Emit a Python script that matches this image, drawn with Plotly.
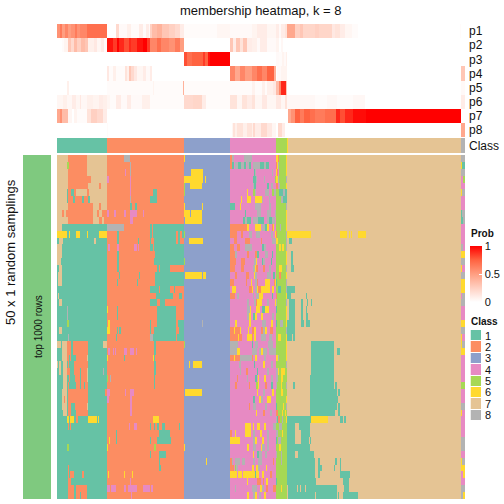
import plotly.graph_objects as go

# Every row is run-length text: "value:end_column", over 408 columns.
prob_labels = ["p1", "p2", "p3", "p4", "p5", "p6", "p7", "p8"]
prob_rows = [
 ".55:3 .65:5 .5:8 .6:11 .5:14 .55:18 .65:20 .55:23 .6:30 .7:50 0:59 .2:62 .03:70 .08:74 .02:82 .1:86 .02:89 .1:92 .03:93 .25:95 .35:100 .4:105 .3:112 .25:118 .2:123 .1:127 .02:160 .05:173 .03:195 .06:200 .1:210 .05:219 .1:222 .03:224 .1:228 .15:230 .45:238 .25:243 .3:246 .22:258 .25:262 .22:275 .12:278 .15:283 .1:288 .05:295 .02:301 0:403 .02:404 0:408",
 "0:5 .02:7 .06:11 .3:14 .2:17 .35:20 .25:24 .35:28 .3:31 .08:37 .12:40 .05:44 .1:47 .02:50 .95:56 .85:60 1:62 .9:67 .8:72 .9:74 .85:80 .95:86 1:90 .85:93 .6:100 .7:104 .6:112 .55:118 .65:123 .5:127 0:173 .3:176 .1:179 .3:183 .15:186 .3:190 .1:195 .08:200 .03:203 .1:210 .03:219 .06:222 0:224 .04:226 0:408",
 "0:127 .8:130 .7:135 .75:146 .85:148 .75:151 .95:153 1:173 0:219 .03:222 .02:225 .06:227 .03:229 .08:230 0:408",
 "0:50 .12:52 .02:56 .08:59 .02:68 .15:70 .08:72 .3:74 .2:77 .12:80 .05:86 .1:89 .03:93 .1:95 0:173 .6:178 .45:183 .6:188 .5:195 .6:200 .7:205 .6:210 .75:217 .4:219 0:220 .03:224 .06:230 0:404 .3:408",
 "0:10 .08:12 0:50 .02:96 .06:97 .02:126 .4:127 .02:173 .02:195 .07:198 .02:205 .08:208 .02:210 .08:216 .12:219 .35:222 .6:224 .9:229 .3:230 0:404 .03:408",
 ".05:6 .08:10 .04:15 .1:19 .05:23 .12:24 .04:30 .08:36 .06:42 .1:46 .08:50 .05:53 .02:59 .1:64 .03:70 .1:74 .03:85 .08:93 .02:127 .2:136 .22:145 .1:149 .02:173 .15:180 .05:185 .15:190 .1:195 .15:198 .05:205 .12:210 .05:219 .12:224 .05:228 .15:230 .04:258 .02:270 .04:280 .02:296 .04:308 0:404 .1:408",
 ".45:3 .55:5 .35:11 .05:15 0:17 .06:20 .02:30 .15:34 .25:40 .2:46 .1:50 0:231 .45:234 .55:238 .75:243 .65:247 .75:253 .7:258 .65:268 .7:279 .9:283 .8:288 .9:296 .97:309 1:404 0:408",
 "0:50 .02:51 0:175 .05:176 .15:178 .08:180 .15:186 .08:190 .15:195 .08:196 .2:198 .1:204 .2:210 .12:215 .05:219 0:221 .2:225 .1:228 0:404 .45:408",
]
class_row = "1:50 2:127 3:173 4:219 5:230 6:231 7:404 8:408"

block_a = [
 "7:11 2:30 7:50 2:67 8:73 2:127",
 "7:10 5:12 2:30 7:50 2:73 8:74 2:127",
 "7:11 2:30 7:50 2:68 4:69 2:73 8:74 2:127",
 "7:11 2:34 7:50 4:52 2:73 4:74 2:127",
 "7:11 2:31 7:42 2:44 7:50 2:73 4:74 2:127",
 "7:10 1:11 2:14 1:17 2:19 7:30 2:32 7:50 2:73 4:74 2:96 1:100 2:127",
 "7:10 1:11 2:16 1:18 2:25 1:27 2:31 1:33 7:50 2:73 8:74 2:93 1:100 2:127",
 "7:11 2:36 7:42 2:44 7:50 2:73 1:75 2:78 1:80 2:127",
 "7:5 2:7 7:9 2:36 7:40 2:42 7:45 2:50 4:52 2:57 4:59 2:67 4:69 2:73 4:80 2:86 4:87 2:127",
 "7:11 2:36 7:42 2:45 7:47 2:73 4:76 2:127",
 "7:5 1:50 8:67 2:93 1:95 2:96 1:127",
 "6:10 1:12 6:13 1:19 6:23 1:30 6:31 1:42 6:50 2:60 1:62 2:93 1:95 2:96 1:119 2:121 1:123 2:125 1:127",
 "1:2 7:6 1:37 7:39 1:50 2:60 1:62 2:81 1:82 2:93 1:94 2:97 1:119 2:121 1:123 2:127",
 "7:5 1:50 2:51 4:53 2:60 4:62 2:77 4:80 2:81 4:82 2:93 1:96 2:97 1:127",
 "7:5 1:50 2:60 1:62 2:98 1:127",
 "7:4 1:50 2:60 1:62 2:97 1:127",
 "1:2 7:5 1:50 2:60 1:62 2:100 1:102 2:103 1:113 2:127",
 "1:1 7:5 1:50 2:62 1:63 2:82 1:83 2:98 1:127",
 "1:1 7:5 1:50 2:60 1:61 2:80 1:81 2:98 1:127",
 "1:50 2:93 1:102 2:103 1:113 2:117 1:118 2:127",
 "1:1 7:2 1:50 2:99 1:116 2:122 1:125 2:127",
 "1:2 7:5 1:50 2:93 1:100 2:103 1:108 2:127",
 "1:10 8:11 1:50 6:51 2:60 1:61 2:100 1:119 2:127",
 "1:10 8:11 1:50 2:60 1:61 2:100 1:119 2:127",
 "1:10 5:12 1:50 2:51 6:53 2:93 1:94 2:100 1:119 2:121 1:127",
 "1:2 7:5 1:50 6:53 2:60 1:61 2:62 1:64 2:93 1:94 2:97 1:119 2:122 1:127",
 "1:11 8:12 1:50 2:59 1:60 2:93 8:96 1:119 2:120 1:127",
 "7:4 1:5 7:10 2:14 1:16 2:31 1:46 7:50 2:97 1:99 2:127",
 "1:5 7:10 2:14 1:16 2:31 1:50 2:51 4:53 2:56 4:57 2:58 4:59 2:67 4:70 2:73 4:77 2:79 4:80 2:97 1:99 2:127",
 "1:5 7:10 2:12 1:13 2:14 1:19 2:30 7:31 1:50 6:51 2:67 1:68 2:96 6:97 1:98 2:127",
 "7:1 1:2 7:4 1:6 7:10 1:11 2:12 1:17 2:31 1:50 2:97 1:99 2:127",
 "1:2 7:4 1:6 7:10 2:13 1:17 2:23 1:24 2:30 7:31 1:46 8:47 1:50 2:97 1:99 2:127",
 "1:6 7:10 1:12 2:13 1:18 2:23 1:24 2:30 7:31 1:50 5:51 2:53 8:54 2:97 1:98 2:127",
 "1:6 7:10 1:11 2:12 1:19 2:23 1:24 2:27 1:28 2:31 1:50 2:97 1:98 2:127",
 "1:5 7:10 1:11 2:31 1:48 2:50 4:53 2:68 4:69 2:73 4:77 2:127",
 "1:5 7:7 2:8 7:10 1:11 2:31 1:50 4:52 2:73 4:75 2:127",
 "1:5 7:10 1:11 2:14 1:18 2:30 7:31 1:50 2:73 4:75 2:127",
 "1:6 7:10 1:11 2:14 1:19 2:31 1:50 2:73 4:75 2:127",
 "1:10 6:12 1:13 6:17 1:19 2:21 1:31 6:40 1:41 6:42 1:50 2:96 6:102 2:127",
 "1:11 2:12 1:13 2:14 1:50 2:72 4:73 2:77 4:80 2:93 1:94 2:97 1:98 2:100 1:102 2:105 1:108 2:122 1:123 2:127",
 "1:50 2:59 1:60 2:102 1:113 2:127",
 "1:50 2:52 6:53 2:59 1:60 2:93 1:94 2:100 1:114 2:127",
 "1:10 5:12 1:50 6:51 2:97 5:99 2:127",
 "1:50 2:93 1:94 2:102 1:109 2:127",
 "1:50 2:102 1:103 2:127",
 "1:11 2:12 1:50 2:102 1:104 2:127",
 "1:11 2:12 1:13 2:17 1:25 2:27 1:50 2:51 6:52 2:67 6:68 2:75 6:76 2:127",
 "1:11 2:14 1:50 2:73 4:74 2:127",
 "1:11 2:17 1:19 2:30 1:50 4:53 2:54 4:59 2:67 4:69 2:71 4:80 2:86 4:93 2:94 4:96 2:127",
 "1:11 2:17 1:19 2:23 1:24 2:30 1:50 2:74 4:75 2:127",
]

block_b_default = "3:173"
block_b_changes = {
 0: "6:128 3:173", 2: "3:134 6:146 3:173", 3: "6:146 3:148 6:149 3:173",
 4: "5:128 3:133 6:145 3:173", 5: "5:128 3:173", 7: "6:128 3:145 6:146 3:173",
 8: "6:133 3:134 6:145 3:173", 9: "3:128 6:145 3:173", 11: "5:128 3:173",
 12: "3:132 6:146 3:173", 15: "5:128 3:173", 17: "3:128 6:145 3:146 6:149 3:173",
 24: "3:145 8:146 3:173", 27: "5:128 3:173", 30: "3:132 6:133 3:136 6:145 3:173",
 34: "3:128 6:145 3:173", 42: "6:128 3:173", 44: "3:149 6:150 3:173",
}

block_c = [
 "2:175 8:177 4:187 8:195 4:219 6:221 2:222 5:229 6:230",
 "2:175 1:177 4:178 8:181 1:184 8:187 1:189 4:190 8:192 1:194 4:196 8:203 1:207 8:209 1:212 4:219 2:220 6:221 8:222 5:229 6:230",
 "4:197 1:198 8:199 4:215 8:216 4:219 6:220 2:221 4:222 5:229 6:230",
 "4:196 1:199 8:200 4:207 8:208 4:218 5:219 6:221 8:222 5:229 8:230",
 "4:196 8:197 1:199 4:210 1:212 4:214 8:216 4:219 2:221 4:222 8:223 5:229 6:230",
 "4:190 6:191 4:196 5:198 8:199 4:208 8:212 4:215 5:217 8:219 5:222 1:226 8:228 1:230",
 "4:184 6:185 4:190 6:194 4:198 6:205 8:206 4:212 8:213 4:219 5:224 8:226 1:230",
 "1:178 4:183 6:184 4:198 8:204 4:212 8:214 4:219 5:229 8:230",
 "4:188 1:189 4:200 8:204 4:210 8:214 4:218 8:219 5:229 6:230",
 "4:186 1:188 8:190 1:194 4:196 8:201 1:207 4:210 8:212 1:215 8:218 4:219 5:229 6:230",
 "2:190 6:192 4:198 6:204 4:205 8:208 1:210 6:212 4:215 2:216 6:217 4:219 5:223 8:224 5:229 6:230",
 "2:180 4:184 2:186 4:192 8:195 4:199 8:203 4:214 8:216 4:218 6:219 2:220 5:229 8:230",
 "4:177 2:180 4:188 2:193 4:204 2:205 4:215 8:219 6:221 5:229 8:230",
 "2:177 4:180 2:183 4:188 8:195 4:205 1:207 8:209 4:219 5:222 6:224 5:225 6:227 5:229 8:230",
 "2:178 8:180 4:190 2:192 4:198 2:200 1:202 4:208 8:211 4:215 1:216 4:219 5:229 6:230",
 "2:179 4:184 2:188 4:197 8:199 6:200 4:205 1:206 8:208 4:214 1:215 4:219 5:229 6:230",
 "2:178 4:184 2:187 4:196 8:198 6:199 2:201 4:206 2:208 4:212 8:214 4:219 5:222 6:225 5:229 8:230",
 "4:178 2:180 4:189 2:192 4:197 6:198 8:200 4:210 8:214 4:216 1:218 4:219 5:222 2:224 5:229 6:230",
 "2:177 4:189 2:190 4:194 6:195 4:198 8:200 2:201 4:208 6:213 4:217 2:218 6:219 1:220 5:229 8:230",
 "4:175 6:179 4:192 2:195 6:196 4:198 8:200 6:201 2:204 6:213 4:215 6:217 4:219 5:221 1:224 5:229 8:230",
 "2:178 4:180 8:182 4:196 8:197 4:199 8:202 6:206 4:215 1:216 4:219 2:220 5:229 6:230",
 "4:190 8:192 4:197 8:199 2:200 6:205 4:210 8:212 4:218 6:219 8:220 5:229 8:230",
 "4:190 8:193 6:194 4:199 6:203 4:205 1:208 6:212 4:219 1:220 5:229 6:230",
 "4:190 8:192 6:194 4:196 1:198 6:200 4:204 6:206 4:215 8:217 4:219 5:229 6:230",
 "4:178 6:180 4:192 6:194 4:205 8:209 4:214 6:216 4:219 1:220 5:223 8:226 5:229 6:230",
 "2:177 6:178 2:183 6:184 4:191 6:192 4:195 2:197 6:199 4:204 2:206 8:208 6:210 4:213 2:216 4:219 5:229 8:230",
 "2:181 6:182 2:185 4:190 6:195 2:196 4:197 6:199 4:204 8:209 4:212 8:215 4:219 5:221 6:224 5:229 6:230",
 "8:181 4:195 1:196 4:198 8:201 4:211 8:216 4:219 5:229 6:230",
 "8:180 6:183 4:195 8:200 4:202 8:204 6:206 8:210 4:212 8:219 5:229 6:230",
 "2:177 6:178 2:183 8:195 2:196 4:198 6:200 4:207 8:209 4:219 6:221 8:222 5:229 6:230",
 "4:182 8:184 4:197 1:198 4:206 6:208 4:214 8:216 4:219 5:229 8:230",
 "4:183 8:184 4:189 2:191 4:200 1:201 4:210 8:212 4:219 8:221 6:222 5:224 6:228 5:230",
 "4:180 2:181 4:190 8:191 4:198 1:200 4:201 6:202 4:207 6:209 4:214 8:216 4:219 8:221 5:224 6:226 5:230",
 "4:178 2:180 4:192 2:193 4:199 5:201 6:202 4:208 2:210 4:214 1:216 4:219 8:220 5:224 6:225 5:229 8:230",
 "4:200 6:201 4:206 8:208 4:215 6:217 4:219 5:224 6:226 5:230",
 "4:196 1:198 4:202 6:204 8:206 4:210 6:214 4:219 5:229 6:230",
 "4:192 2:193 4:196 8:199 4:208 8:210 4:219 1:220 5:226 6:227 5:229 8:230",
 "4:199 6:200 4:206 2:208 4:213 8:215 4:219 2:221 5:225 6:226 5:228 6:229 5:230",
 "4:219 8:220 1:221 2:223 5:225 8:226 5:229 6:230",
 "4:188 6:194 4:196 6:197 4:200 6:203 4:207 6:209 4:216 8:219 5:222 8:225 5:230",
 "2:175 4:178 6:179 4:188 6:194 4:196 8:198 4:203 6:205 4:210 8:212 4:219 8:221 5:225 6:226 5:230",
 "6:183 4:196 8:198 6:200 4:205 6:207 4:210 8:212 4:219 1:220 5:221 8:224 5:230",
 "4:190 6:192 4:196 8:199 4:204 6:205 8:208 4:210 8:212 4:219 5:222 6:224 5:230",
 "4:196 6:197 4:200 1:202 8:205 4:208 8:210 4:219 8:220 5:224 8:225 5:230",
 "2:175 8:176 4:178 8:183 4:185 8:188 4:196 8:198 4:201 8:205 4:216 2:217 4:219 5:224 8:225 5:230",
 "2:177 4:178 5:179 8:181 4:195 6:197 4:199 6:201 8:203 4:209 6:210 4:219 5:230",
 "6:179 6:180 4:181 6:185 4:186 6:195 6:198 1:199 6:202 4:205 6:207 4:213 2:215 4:219 5:230",
 "4:190 6:191 4:200 2:204 4:206 2:207 4:209 6:211 4:219 1:220 5:230",
 "4:178 8:179 4:195 8:200 4:203 6:205 8:207 4:209 2:211 4:216 2:219 5:224 6:225 5:230",
 "4:190 6:192 4:196 8:198 6:200 4:202 8:204 4:207 6:209 4:219 5:230",
]

block_d = [
 "7:404", "7:404", "7:404", "7:404", "7:404", "7:404", "7:404", "7:404", "7:404", "7:404", "7:404",
 "6:254 7:283 6:290 7:292 6:293 7:294 6:295 7:301 6:309 7:404",
 "7:232 1:235 7:404", "7:404", "7:234 1:236 7:404", "7:234 1:236 7:404", "7:234 1:237 7:404", "7:404", "7:404",
 "1:238 7:404",
 "1:234 7:249 1:250 7:404",
 "7:232 1:238 7:244 1:246 7:250 1:251 7:254 1:255 7:404",
 "7:232 1:238 7:244 1:246 7:249 1:250 7:404",
 "7:232 1:238 7:244 1:246 7:249 1:251 7:404",
 "1:238 7:244 1:247 7:249 1:253 7:404",
 "1:238 7:404",
 "1:235 7:236 1:238 7:404",
 "7:254 1:277 7:404",
 "7:254 1:277 7:280 1:283 7:404",
 "7:254 1:277 7:404", "7:254 1:277 7:404", "7:254 1:277 7:404",
 "7:253 1:277 7:404",
 "7:236 1:238 7:253 1:277 7:278 1:280 7:404",
 "7:253 1:280 7:281 1:283 7:404",
 "7:253 1:281 7:404",
 "7:253 1:280 7:281 1:283 7:404",
 "7:253 1:278 7:281 1:283 7:404",
 "1:254 6:271 7:283 1:286 7:287 1:289 7:404",
 "1:238 7:242 1:253 7:404",
 "1:238 7:244 1:253 7:404",
 "1:238 7:244 1:252 7:253 1:254 7:404",
 "1:253 7:404",
 "1:238 7:241 1:257 7:404",
 "1:258 7:261 1:263 7:278 1:280 7:283 1:284 7:404",
 "1:258 7:261 1:265 7:277 1:278 7:283 1:284 7:404",
 "1:258 7:261 1:263 7:283 1:293 7:404",
 "1:259 7:286 1:292 7:404",
 "7:231 1:240 7:241 1:243 7:244 1:248 7:249 1:280 7:287 1:292 7:404",
 "7:231 1:258 7:259 1:280 7:281 1:282 7:286 1:301 7:404",
]

block_e = [
 "8:408", "6:405 1:408", "8:408", "4:406 5:408", "4:408", "6:405 8:408", "4:408", "4:408", "1:405 8:408", "1:406 8:408",
 "4:408", "4:408", "4:408", "8:406 4:408", "6:408", "8:408", "6:405 4:408", "8:408", "6:408", "6:408",
 "4:405 8:408", "8:408", "4:408", "4:408", "6:408", "8:408", "6:405 4:408", "6:405 8:408", "6:408", "4:408",
 "4:408", "4:408", "4:408", "5:408", "4:408", "4:408", "8:408", "6:405 4:408", "4:408", "4:408",
 "4:408", "8:408", "8:408", "4:408", "6:405 8:408", "6:408", "4:406 6:408", "4:408", "8:408", "8:406 6:408",
]

class_colors = ["#66C2A5", "#FC8D62", "#8DA0CB", "#E78AC3", "#A6D854", "#FFD92F", "#E5C494", "#B3B3B3"]
class_names = ["1", "2", "3", "4", "5", "6", "7", "8"]
prob_ticks = [0, 0.5, 1]
FONT = "Liberation Sans"


def expand(text, start=0):
    out, pos = [], start
    for token in text.split():
        value, end = token.split(":")
        end = int(end)
        out += [float(value)] * max(0, end - pos)
        pos = max(pos, end)
    return out


matrix = [
    expand(block_a[i])
    + expand(block_b_changes.get(i, block_b_default), 127)
    + expand(block_c[i], 173)
    + expand(block_d[i], 230)
    + expand(block_e[i], 404)
    for i in range(50)
]
prob = [expand(r) for r in prob_rows]

stepped = []
for i, c in enumerate(class_colors):
    stepped += [[i / 8, c], [(i + 1) / 8, c]]
red_ramp = [[0, "#FFFFFF"], [0.25, "#FFD0C2"], [0.5, "#FF9E81"], [0.75, "#FF6341"], [1, "#FF0000"]]

fig = go.Figure()


def add_axes(n, left, right, top, bottom, **yopts):
    suffix = "" if n == 1 else str(n)
    fig.layout["xaxis" + suffix] = dict(domain=[left / 504, right / 504], visible=False, fixedrange=True, anchor="y" + suffix)
    yaxis = dict(domain=[1 - bottom / 504, 1 - top / 504], fixedrange=True, anchor="x" + suffix, showgrid=False,
                 zeroline=False, showline=False, ticks="", autorange="reversed", showticklabels=False)
    yaxis.update(yopts)
    fig.layout["yaxis" + suffix] = yaxis
    return dict(xaxis="x" + suffix, yaxis="y" + suffix)


label_opts = dict(side="right", showticklabels=True, ticklabelstandoff=3,
                  tickfont=dict(family=FONT, size=12, color="#111111"))
legend_label_opts = dict(label_opts, tickfont=dict(family=FONT, size=11, color="#111111"))

fig.add_trace(go.Heatmap(
    z=prob, colorscale=red_ramp, zmin=0, zmax=1, hoverinfo="skip",
    colorbar=dict(x=470 / 504, xanchor="left", y=1 - 246 / 504, yanchor="top", lenmode="pixels", len=56,
                  thickness=12, outlinewidth=0, xpad=0, ypad=0, tickvals=prob_ticks,
                  ticktext=["0", "0.5", "1"],
                  ticks="inside", tickcolor="white", ticklen=3, tickfont=dict(family=FONT, size=11, color="#111111")),
    **add_axes(1, 57, 465, 24, 137, tickmode="array", tickvals=list(range(8)), ticktext=prob_labels, **label_opts)))

fig.add_trace(go.Heatmap(
    z=[expand(class_row)], colorscale=stepped, zmin=0.5, zmax=8.5, showscale=False, hoverinfo="skip",
    **add_axes(2, 57, 465, 138, 153, tickmode="array", tickvals=[0], ticktext=["Class"], **label_opts)))

fig.add_trace(go.Heatmap(
    z=matrix, colorscale=stepped, zmin=0.5, zmax=8.5, showscale=False, hoverinfo="skip",
    **add_axes(3, 57, 465, 155, 499)))

fig.add_trace(go.Heatmap(
    z=[[1]], colorscale=[[0, "#7FC97F"], [1, "#7FC97F"]], showscale=False, hoverinfo="skip",
    **add_axes(4, 23, 51, 155, 499)))

fig.add_trace(go.Heatmap(
    z=[[i + 1] for i in range(8)], colorscale=stepped, zmin=0.5, zmax=8.5, showscale=False, hoverinfo="skip", ygap=1,
    **add_axes(5, 470.5, 481, 330, 421, tickmode="array", tickvals=list(range(8)), ticktext=class_names, **legend_label_opts)))


def note(text, x, y, size, angle=0, anchor="left"):
    fig.add_annotation(text=text, x=x / 504, y=1 - y / 504, xref="paper", yref="paper", showarrow=False,
                       xanchor=anchor, yanchor="middle", textangle=angle,
                       font=dict(family=FONT, size=size, color="#111111"))


note("membership heatmap, k = 8", 261, 10, 13, anchor="center")
note("50 x 1 random samplings", 10, 252, 13, angle=-90, anchor="center")
note("top 1000 rows", 38, 327, 10, angle=-90, anchor="center")
note("<b>Prob</b>", 469, 233, 10)
note("<b>Class</b>", 469, 321, 10)

fig.update_layout(width=504, height=504, margin=dict(l=0, r=0, t=0, b=0), paper_bgcolor="white",
                  plot_bgcolor="white", showlegend=False, autosize=False)
fig.write_html("out.html", config=dict(displayModeBar=False),
               post_script="document.body.style.margin='0';document.documentElement.style.overflow='hidden';")
